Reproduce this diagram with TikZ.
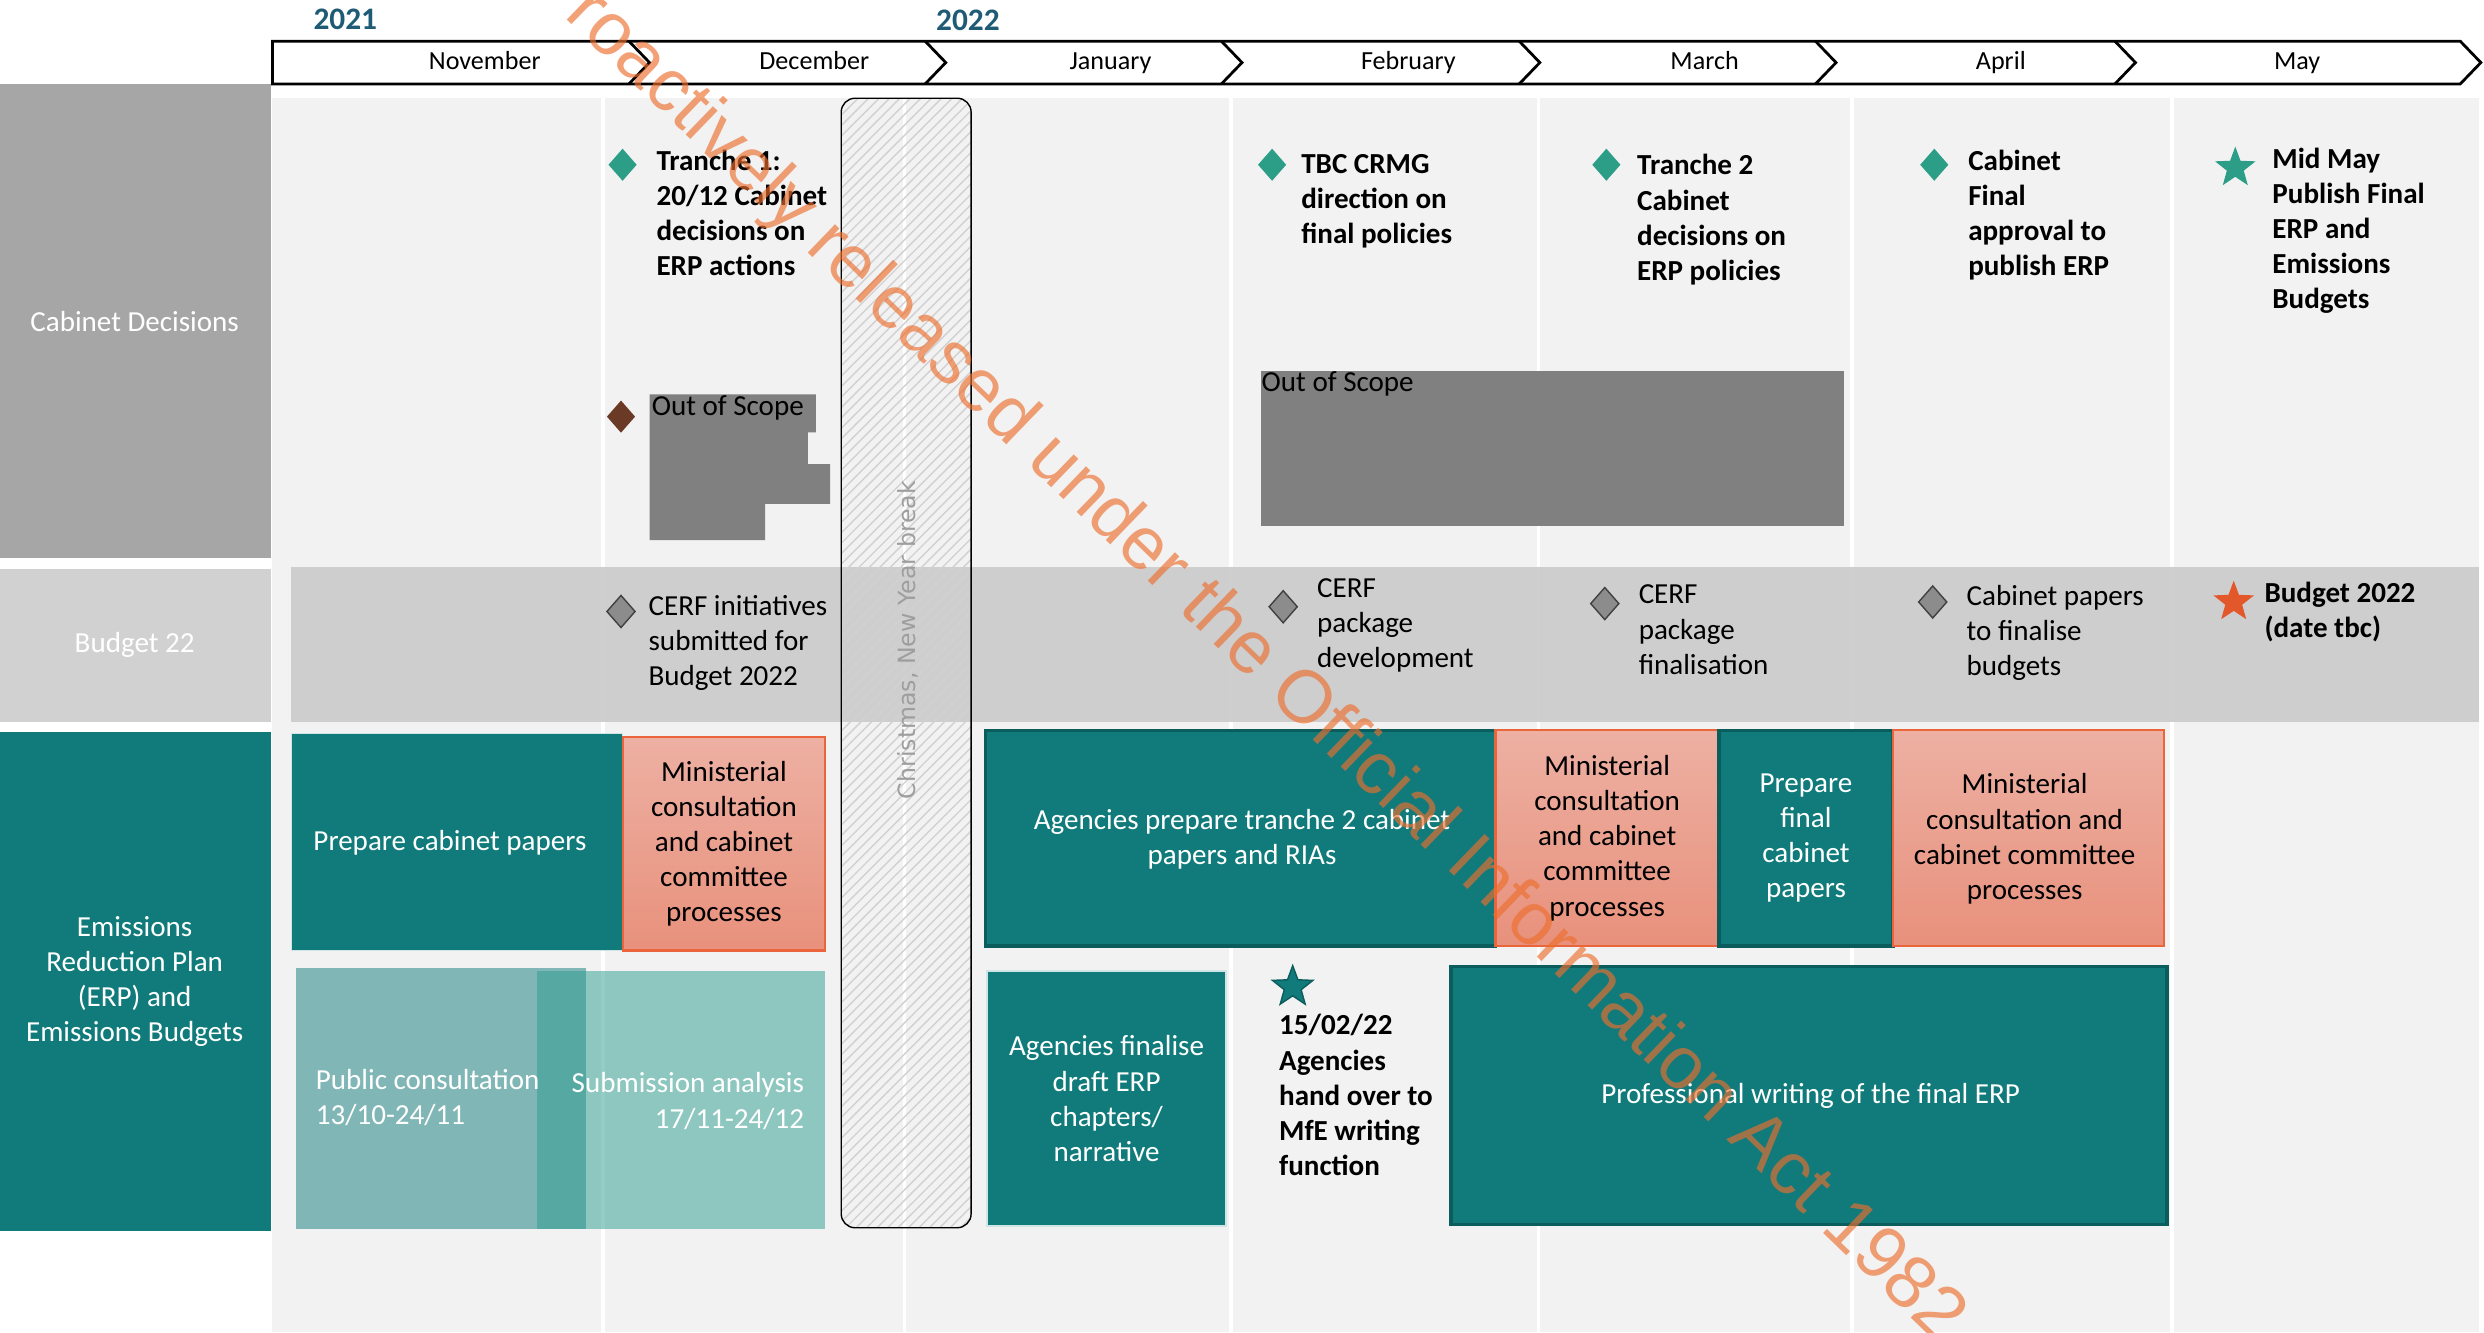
\documentclass[tikz,border=0pt]{standalone}
\usepackage{fontspec}
\setmainfont{Carlito}
\newfontfamily\wmfont{Liberation Sans}
\newfontfamily\xmasfont{DejaVu Sans}
\usetikzlibrary{shapes.geometric,patterns}

\definecolor{erpteal}{RGB}{17,123,123}
\definecolor{erpedge}{RGB}{11,92,92}
\definecolor{subteal}{RGB}{42,157,143}
\definecolor{msteal}{RGB}{44,157,135}
\definecolor{msbrown}{RGB}{107,58,38}
\definecolor{pinktop}{RGB}{237,176,163}
\definecolor{pinkbot}{RGB}{232,145,124}
\definecolor{pinkedge}{RGB}{234,100,60}
\definecolor{bgrey}{RGB}{242,242,242}
\definecolor{cabgrey}{RGB}{166,166,166}
\definecolor{budlbl}{RGB}{209,209,209}
\definecolor{band}{RGB}{203,203,203}
\definecolor{oos}{RGB}{128,128,128}
\definecolor{yearblue}{RGB}{31,91,117}
\definecolor{starred}{RGB}{226,88,42}
\definecolor{wmorange}{RGB}{237,110,45}

\begin{document}
\begin{tikzpicture}[x=0.16mm,y=-0.16mm,
  txt/.style={inner sep=0pt,font=\fontsize{8.35}{10.1}\selectfont},
  note/.style={txt,anchor=base west,align=left},
  bnote/.style={note,font=\fontsize{8.35}{10.1}\selectfont\bfseries},
  wtxt/.style={txt,align=center,text=white},
  tealbox/.style={fill=erpteal},
  edgebox/.style={fill=erpteal,draw=erpedge,line width=1pt},
  pinkbox/.style={top color=pinktop,bottom color=pinkbot,draw=pinkedge,line width=.6pt},
  diam/.style={diamond,inner sep=0pt,minimum width=2.9mm,minimum height=3.3mm},
  mstar/.style={star,star points=5,star point ratio=2.4,inner sep=0pt,minimum size=4.3mm}]
\useasboundingbox (0,0) rectangle (1568,841);

% years and months
\node[font=\fontsize{9}{10}\selectfont\bfseries,text=yearblue] (y21) at (218,12) {2021};
\node[font=\fontsize{9}{10}\selectfont\bfseries,text=yearblue] (y22) at (611,13) {2022};
\draw[line width=.8pt,fill=white] (172,26) -- (1553,26) -- (1566,39.5) -- (1553,53) -- (172,53) -- cycle;
\foreach \r in {397,584,771,959,1146,1335}
  \draw[line width=.8pt] (\r,26) -- (\r+13,39.5) -- (\r,53);
\foreach \x/\m in {306/November,514/December,701/January,889/February,1076/March,1263/April,1450/May}
  \node[anchor=base,font=\fontsize{7.5}{9}\selectfont] (m\m) at (\x,44) {\m};

% row labels
\fill[cabgrey] (0,53) rectangle (171,352);
\node[txt,text=white] (cab) at (85,203) {Cabinet Decisions};
\fill[budlbl] (0,359) rectangle (171,456);
\node[txt,text=white] (bud) at (85,407) {Budget 22};
\fill[erpteal] (0,462) rectangle (171,777);
\node[wtxt] (erp) at (85,619.5) {Emissions\\Reduction Plan\\(ERP) and\\Emissions Budgets};

% background, month lines, budget band
\fill[bgrey] (172,62) rectangle (1565,841);
\foreach \x in {380.5,571,777,971,1169,1371}
  \draw[white,line width=1pt] (\x,62) -- (\x,841);
\fill[band,fill opacity=.92] (184,358) rectangle (1565,456);
\draw[pattern=north east lines,pattern color=black!18,rounded corners=4pt] (531,62) rectangle (613,775);
\node[rotate=90,inner sep=0pt,text=black!38,font=\xmasfont\fontsize{6.8}{8}\selectfont] (xmas) at (573,404) {Christmas, New Year break};

% out of scope
\fill[oos] (410,249) -- (515,249) -- (515,273) -- (510,273) -- (510,293) -- (524,293)
  -- (524,318) -- (483,318) -- (483,341) -- (410,341) -- cycle;
\node[note] (oos1) at (411,262) {Out of Scope};
\fill[oos] (796,234) rectangle (1164,332);
\node[note] (oos2) at (796,247) {Out of Scope};

% cabinet decisions (base = last line)
\node[diam,fill=msteal] (d1) at (393,104) {};
\node[bnote] (t1) at (414,174) {Tranche 1:\\20/12 Cabinet\\decisions on\\ERP actions};
\node[diam,fill=msbrown] (d2) at (392,263) {};
\node[diam,fill=msteal] (d3) at (803,104) {};
\node[bnote] (crmg) at (821,153.6) {TBC CRMG\\direction on\\final policies};
\node[diam,fill=msteal] (d4) at (1014,104) {};
\node[bnote] (t2) at (1033,177) {Tranche 2\\Cabinet\\decisions on\\ERP policies};
\node[diam,fill=msteal] (d5) at (1221,104) {};
\node[bnote] (final) at (1242,174) {Cabinet\\Final\\approval to\\publish ERP};
\node[mstar,fill=msteal] (s1) at (1411,106) {};
\node[bnote] (may) at (1434,195) {Mid May\\Publish Final\\ERP and\\Emissions\\Budgets};

% budget 22
\node[diam,fill=black!45,draw=black!75] (g1) at (392,386) {};
\node[note] (cerf1) at (409,432.6) {CERF initiatives\\submitted for\\Budget 2022};
\node[diam,fill=black!45,draw=black!75] (g2) at (810,383) {};
\node[note] (cerf2) at (831,421.6) {CERF\\package\\development};
\node[diam,fill=black!45,draw=black!75] (g3) at (1013,381) {};
\node[note] (cerf3) at (1034,425.6) {CERF\\package\\finalisation};
\node[diam,fill=black!45,draw=black!75] (g4) at (1220,380) {};
\node[note] (cpap) at (1241,426.6) {Cabinet papers\\to finalise\\budgets};
\node[mstar,fill=starred] (s2) at (1410,380) {};
\node[bnote] (b22) at (1429,402.3) {Budget 2022\\(date tbc)};

% ERP work
\fill[tealbox,draw=white!80!erpteal] (184,463) rectangle (393,600);
\node[wtxt] (prep) at (284,532) {Prepare cabinet papers};
\path[pinkbox] (393,465) rectangle (521,600);
\node[txt,align=center] (min1) at (457,532.5) {Ministerial\\consultation\\and cabinet\\committee\\processes};
\fill[erpteal,fill opacity=.5] (187,611) rectangle (370,776);
\fill[subteal,fill opacity=.5] (339,613) rectangle (521,776);
\node[txt,align=left,anchor=west,text=white] (pub) at (199,693) {Public consultation\\13/10-24/11};
\node[txt,align=right,anchor=east,text=white] (sub) at (508,695) {Submission analysis\\17/11-24/12};
\path[edgebox] (622,461) rectangle (944,597);
\node[wtxt] (agp) at (784,529.5) {Agencies prepare tranche 2 cabinet\\papers and RIAs};
\path[pinkbox] (944,461) rectangle (1085,597);
\node[txt,align=center] (min2) at (1014.5,529) {Ministerial\\consultation\\and cabinet\\committee\\processes};
\path[edgebox] (1085,461) rectangle (1195,597);
\node[wtxt] (pfin) at (1140,529) {Prepare\\final\\cabinet\\papers};
\path[pinkbox] (1195,461) rectangle (1366,597);
\node[txt,align=center] (min3) at (1278,529.5) {Ministerial\\consultation and\\cabinet committee\\processes};
\fill[tealbox,draw=white!80!erpteal] (623,613) rectangle (774,774);
\node[wtxt] (agf) at (698.5,693.5) {Agencies finalise\\draft ERP\\chapters/\\narrative};
\node[mstar,fill=erpteal,draw=erpedge] (s3) at (816,623) {};
\node[bnote] (hand) at (807,742) {15/02/22\\Agencies\\hand over to\\MfE writing\\function};
\path[edgebox] (916,610) rectangle (1368,773);
\node[wtxt] (prof) at (1143,691.5) {Professional writing of the final ERP};

% watermark
\node[rotate=-44,inner sep=0pt,text=wmorange,text opacity=.65,font=\wmfont\fontsize{21.4}{24}\selectfont] (wm) at (787,410) {Proactively released under the Official Information Act 1982};
\end{tikzpicture}
\end{document}
